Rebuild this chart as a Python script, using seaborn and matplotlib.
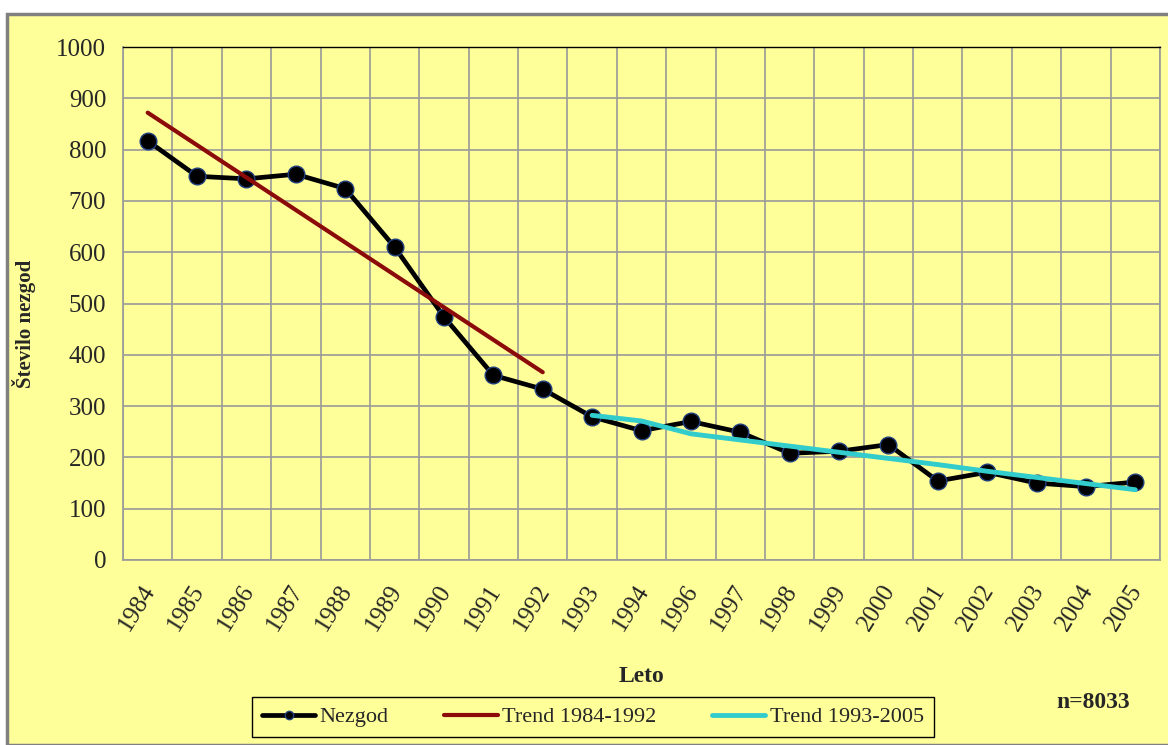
import pandas as pd
import numpy as np
import seaborn as sns
import matplotlib.pyplot as plt
import matplotlib.transforms as mtransforms
from matplotlib.patches import Rectangle
from matplotlib.ticker import MultipleLocator

# data
years = ['1984', '1985', '1986', '1987', '1988', '1989', '1990', '1991', '1992', '1993',
         '1994', '1996', '1997', '1998', '1999', '2000', '2001', '2002', '2003', '2004', '2005']
nezgod = [817, 748, 743, 752, 724, 610, 474, 360, 333, 279,
          252, 270, 249, 208, 212, 225, 154, 171, 150, 143, 152]

trend1_years = ['1984', '1992']
trend1_vals = [872, 366]

trend2_years = ['1993', '1994', '1996', '1997', '1998', '1999', '2000', '2001', '2002', '2003', '2004', '2005']
trend2_vals = [282, 271, 246, 234, 222, 210, 198, 186, 173, 161, 149, 137]

YELLOW = '#FFFF99'
GRID = '#9A9A9A'

df = pd.DataFrame({'year': years, 'nezgod': nezgod})
df['pos'] = range(len(years))
t1 = pd.DataFrame({'pos': [years.index(y) for y in trend1_years], 'val': trend1_vals})
t2 = pd.DataFrame({'pos': [years.index(y) for y in trend2_years], 'val': trend2_vals})

sns.set_style('white')
plt.rcParams['font.family'] = ['Liberation Serif', 'DejaVu Serif']

fig = plt.figure(figsize=(11.68, 7.45), dpi=100)
fig.patch.set_facecolor('white')
# outer yellow chart area with gray border
fig.patches.append(Rectangle((7 / 1168, 0), 1.0, 1 - 14 / 745, transform=fig.transFigure,
                             facecolor=YELLOW, edgecolor='#808080', linewidth=2.5, zorder=-10))

ax = fig.add_axes([123 / 1168, 1 - 560 / 745, (1160 - 123) / 1168, (560 - 47) / 745])
ax.set_zorder(2)
ax.set_facecolor(YELLOW)

sns.lineplot(data=df, x='pos', y='nezgod', ax=ax, color='black', linewidth=3.4,
             marker='o', markersize=12, markeredgecolor='#1F3F7F', markeredgewidth=1,
             label='Nezgod', zorder=3)
sns.lineplot(data=t1, x='pos', y='val', ax=ax, color='#8B0A0A', linewidth=3,
             label='Trend 1984-1992', zorder=4)
sns.lineplot(data=t2, x='pos', y='val', ax=ax, color='#33CCCC', linewidth=3.5,
             label='Trend 1993-2005', zorder=4)

ax.set_xlim(-0.5, len(years) - 0.5)
ax.set_ylim(0, 1000)
ax.yaxis.set_major_locator(MultipleLocator(100))
ax.set_xticks(range(len(years)))
ax.set_xticklabels(years, rotation=58, ha='right', rotation_mode='anchor', fontsize=18)
ax.set_xticks(np.arange(-0.5, len(years), 1), minor=True)
ax.tick_params(axis='x', which='major', length=0, pad=15)
ax.tick_params(axis='x', which='minor', length=7, width=1, color=GRID, direction='out')
ax.tick_params(axis='y', which='major', length=7, width=1, color=GRID, direction='out',
               labelsize=18, pad=5)
ax.grid(axis='y', which='major', color=GRID, linewidth=1.2)
ax.grid(axis='x', which='minor', color=GRID, linewidth=1.2)
ax.set_axisbelow(True)

# nudge rotated year labels a little to the left, like the original
shift = mtransforms.ScaledTranslation(-7 / 100, 0, fig.dpi_scale_trans)
for lbl in ax.get_xticklabels():
    lbl.set_transform(lbl.get_transform() + shift)

for s in ['left', 'bottom', 'right']:
    ax.spines[s].set_color(GRID)
    ax.spines[s].set_linewidth(1.2)
ax.spines['top'].set_color('black')
ax.spines['top'].set_linewidth(1)

ax.set_xlabel('Leto', fontsize=17, fontweight='bold')
ax.set_ylabel('Število nezgod', fontsize=15, fontweight='bold')
ax.xaxis.set_label_coords(0.5, -0.207)
ax.yaxis.set_label_coords(-0.084, 0.46)

leg = ax.legend(loc='center', bbox_to_anchor=(593 / 1168, 1 - 717 / 745),
                bbox_transform=fig.transFigure, ncol=3, fontsize=16, frameon=True,
                fancybox=False, edgecolor='black', facecolor=YELLOW, framealpha=1,
                handlelength=2.4, handletextpad=0.2, columnspacing=2.5, borderpad=0.45,
                markerscale=0.5)
leg.get_frame().set_linewidth(1)

fig.text(1093 / 1168, 1 - 702 / 745, 'n=8033', fontsize=17, fontweight='bold',
         ha='center', va='center')

fig.savefig('out.png', dpi=100, facecolor=fig.get_facecolor())
